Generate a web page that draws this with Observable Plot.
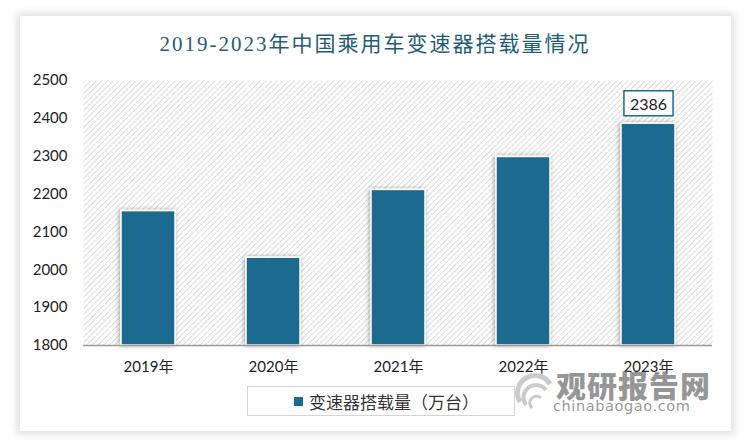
<!DOCTYPE html>
<html>
<head>
<meta charset="utf-8">
<script src="https://cdn.jsdelivr.net/npm/d3@7"></script>
<script src="https://cdn.jsdelivr.net/npm/@observablehq/plot@0.6"></script>
<style>
  html, body { margin: 0; padding: 0; background: #f2f2f2; }
  #wrap { position: relative; width: 750px; height: 448px; overflow: hidden; background: #ffffff; }
  #card { position: absolute; left: 20px; top: 16px; width: 711px; height: 415px; background: #fff;
          box-shadow: 0 0 8px 3px rgba(0,0,0,0.13); }
  #title { position: absolute; left: 0; width: 750px; top: 30px; text-align: center;
           font-family: "Liberation Serif", "Noto Sans CJK SC", serif; font-size: 21px; letter-spacing: 2px;
           color: #1f5d78; line-height: 28px; }
  #chart { position: absolute; left: 0; top: 0; }
  #legend { position: absolute; left: 247px; top: 386px; width: 268px; height: 30px; border: 1px solid #d4d4d4;
            box-sizing: border-box; font-family: "Noto Sans CJK SC", sans-serif; font-size: 17px; color: #333;
            display: flex; align-items: center; }
  #legend .sw { display: inline-block; width: 9px; height: 9px; background: #1c6a8e; margin-left: 46px; margin-right: 6px; }
  #wm1 { position: absolute; left: 556px; top: 366px; font-family: "Noto Sans CJK SC", sans-serif; font-weight: 900;
         font-size: 30px; letter-spacing: 1px; color: rgba(110,110,110,0.72); line-height: 36px; }
  #wm2 { position: absolute; left: 553px; top: 398px; font-family: "DejaVu Sans", sans-serif; font-size: 14.5px;
         color: rgba(110,110,110,0.72); letter-spacing: 0.6px; }
  #logo { position: absolute; left: 514px; top: 372px; }
</style>
</head>
<body>
<div id="wrap">
  <div id="card"></div>
  <div id="chart"></div>
  <div id="title">2019-2023年中国乘用车变速器搭载量情况</div>
  <div id="legend"><span class="sw"></span><span>变速器搭载量（万台）</span></div>
  <svg id="logo" width="42" height="42" viewBox="0 0 42 42">
    <path d="M6 30 A17 17 0 0 1 36 12" fill="none" stroke="rgba(160,160,160,0.55)" stroke-width="5"/>
    <path d="M12 33 A11 11 0 0 1 32 18" fill="none" stroke="rgba(160,160,160,0.55)" stroke-width="4"/>
    <path d="M18 36 A5 5 0 0 1 27 26" fill="none" stroke="rgba(160,160,160,0.55)" stroke-width="3"/>
  </svg>
  <div id="wm1">观研报告网</div>
  <div id="wm2">chinabaogao.com</div>
</div>
<script>
const years = ["2019年", "2020年", "2021年", "2022年", "2023年"];
const values = [2155, 2032, 2211, 2298, 2386];
const yTicks = [1800, 1900, 2000, 2100, 2200, 2300, 2400, 2500];
const labeled = ["2023年"];

const data = years.map((y, i) => ({year: y, value: values[i]}));
const barColor = "#1c6a8e";

const plot = Plot.plot({
  width: 750,
  height: 448,
  marginLeft: 83,
  marginRight: 38,
  marginTop: 80,
  marginBottom: 103,
  style: {background: "transparent", fontFamily: "Lato, 'Noto Sans CJK SC', sans-serif", fontSize: "15px", color: "#222"},
  x: {domain: years, paddingInner: 0.57, paddingOuter: 0.3, label: null},
  y: {domain: [1800, 2500], ticks: yTicks, label: null},
  marks: [
    Plot.frame({fill: "url(#hatch)", stroke: null}),
    Plot.axisY({ticks: yTicks, tickFormat: d => String(d), tickSize: 0, tickPadding: 16, fontSize: 15, label: null}),
    Plot.axisX({tickSize: 0, tickPadding: 16, fontSize: 15, label: null}),
    Plot.barY(data, {x: "year", y1: 1800, y2: "value", fill: barColor, stroke: "#ffffff", strokeWidth: 1.5}),
    Plot.ruleY([1800], {stroke: "#9a9a9a", strokeWidth: 1.5}),
    Plot.text(data.filter(d => labeled.includes(d.year)), {x: "year", y: "value", text: d => String(d.value),
      dy: -19, fontSize: 16, fill: "#222", fontFamily: "Lato, sans-serif"})
  ]
});
document.getElementById("chart").appendChild(plot);

const ns = "http://www.w3.org/2000/svg";
const defs = document.createElementNS(ns, "defs");
defs.innerHTML = `
  <pattern id="hatch" patternUnits="userSpaceOnUse" width="4" height="4" patternTransform="rotate(45)">
    <rect width="4" height="4" fill="#ffffff"/>
    <line x1="0" y1="0" x2="0" y2="4" stroke="#c4c4c4" stroke-width="1.6" stroke-dasharray="1.4 0.6"/>
  </pattern>
  <filter id="shadow" x="-30%" y="-30%" width="160%" height="160%">
    <feDropShadow dx="-1" dy="0" stdDeviation="2.5" flood-color="#000" flood-opacity="0.35"/>
  </filter>`;
plot.insertBefore(defs, plot.firstChild);
const barG = plot.querySelector('g[aria-label="bar"]');
if (barG) barG.setAttribute("filter", "url(#shadow)");

const textG = plot.querySelector('g[aria-label="text"]');
if (textG) {
  textG.querySelectorAll("text").forEach(t => {
    const b = t.getBBox();
    const r = document.createElementNS(ns, "rect");
    r.setAttribute("x", b.x - 6);
    r.setAttribute("y", b.y - 3);
    r.setAttribute("width", b.width + 12);
    r.setAttribute("height", b.height + 6);
    r.setAttribute("fill", "#fff");
    r.setAttribute("stroke", barColor);
    r.setAttribute("stroke-width", 1.5);
    const tr = t.getAttribute("transform");
    if (tr) r.setAttribute("transform", tr);
    t.parentNode.insertBefore(r, t);
  });
}
</script>
</body>
</html>
